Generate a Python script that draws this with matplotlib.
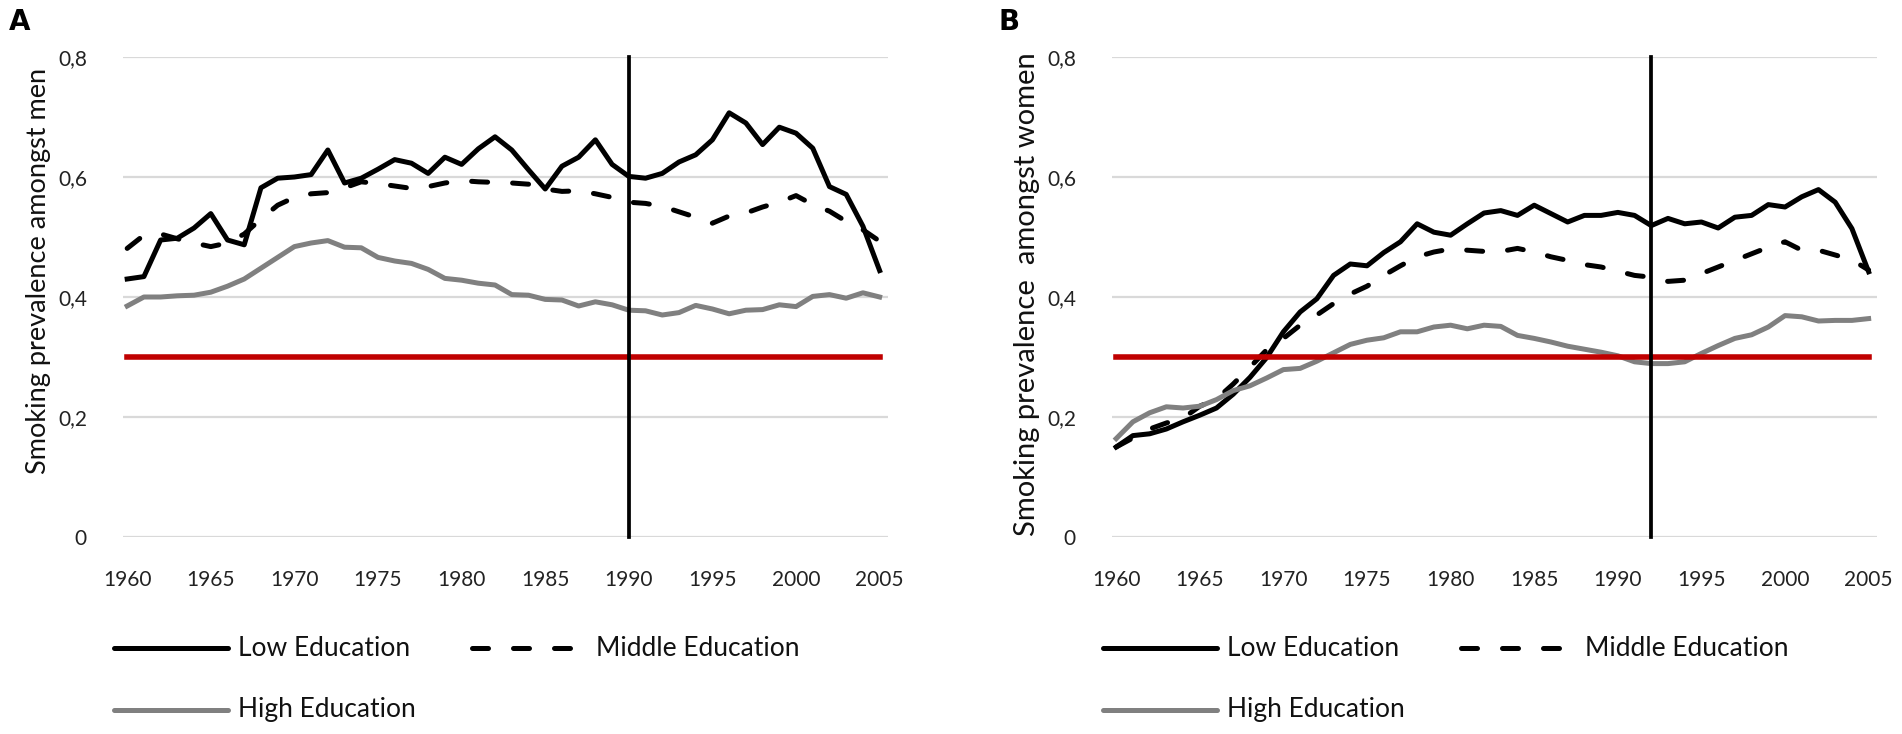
import numpy as np
import matplotlib
matplotlib.use('Agg')
import matplotlib.pyplot as plt
from matplotlib.lines import Line2D

plt.rcParams['font.family'] = ['Lato', 'DejaVu Sans']

years = list(range(1960, 2006))

# panel A - men
men_low = [0.430, 0.434, 0.495, 0.498, 0.515, 0.539, 0.495, 0.487, 0.582, 0.598,
           0.600, 0.604, 0.645, 0.590, 0.598, 0.613, 0.629, 0.623, 0.606, 0.633,
           0.621, 0.647, 0.667, 0.645, 0.612, 0.580, 0.618, 0.633, 0.662, 0.621,
           0.601, 0.598, 0.606, 0.625, 0.637, 0.662, 0.707, 0.690, 0.654, 0.683,
           0.673, 0.648, 0.584, 0.571, 0.518, 0.444]
men_mid = [0.481, 0.503, 0.505, 0.497, 0.490, 0.484, 0.490, 0.505, 0.530, 0.553,
           0.566, 0.572, 0.574, 0.582, 0.592, 0.589, 0.585, 0.581, 0.584, 0.590,
           0.594, 0.592, 0.591, 0.590, 0.588, 0.580, 0.576, 0.577, 0.572, 0.566,
           0.558, 0.556, 0.551, 0.542, 0.533, 0.523, 0.535, 0.540, 0.550, 0.558,
           0.569, 0.554, 0.543, 0.526, 0.512, 0.493]
men_high = [0.385, 0.400, 0.400, 0.402, 0.403, 0.408, 0.418, 0.430, 0.448, 0.466,
            0.484, 0.490, 0.494, 0.483, 0.482, 0.466, 0.460, 0.456, 0.446, 0.431,
            0.428, 0.423, 0.420, 0.404, 0.403, 0.396, 0.395, 0.385, 0.392, 0.387,
            0.378, 0.377, 0.370, 0.374, 0.386, 0.380, 0.372, 0.378, 0.379, 0.387,
            0.384, 0.401, 0.404, 0.398, 0.407, 0.400]

# panel B - women
women_low = [0.150, 0.169, 0.172, 0.180, 0.192, 0.203, 0.215, 0.238, 0.266, 0.299,
             0.342, 0.375, 0.397, 0.436, 0.455, 0.452, 0.474, 0.492, 0.522, 0.508,
             0.503, 0.522, 0.540, 0.544, 0.536, 0.553, 0.539, 0.525, 0.536, 0.536,
             0.541, 0.536, 0.519, 0.531, 0.522, 0.525, 0.515, 0.533, 0.536, 0.554,
             0.550, 0.567, 0.579, 0.558, 0.514, 0.442]
women_mid = [0.150, 0.165, 0.180, 0.190, 0.198, 0.218, 0.230, 0.255, 0.283, 0.312,
             0.331, 0.353, 0.370, 0.389, 0.405, 0.418, 0.436, 0.452, 0.467, 0.475,
             0.480, 0.478, 0.476, 0.476, 0.481, 0.475, 0.467, 0.461, 0.454, 0.450,
             0.443, 0.436, 0.433, 0.426, 0.428, 0.439, 0.450, 0.461, 0.472, 0.483,
             0.492, 0.478, 0.478, 0.470, 0.462, 0.445]
women_high = [0.164, 0.192, 0.207, 0.217, 0.215, 0.218, 0.229, 0.244, 0.252, 0.265,
              0.279, 0.281, 0.293, 0.307, 0.321, 0.328, 0.332, 0.342, 0.342, 0.350,
              0.353, 0.347, 0.353, 0.351, 0.336, 0.331, 0.325, 0.318, 0.313, 0.308,
              0.302, 0.292, 0.289, 0.289, 0.292, 0.306, 0.319, 0.331, 0.337, 0.350,
              0.369, 0.367, 0.360, 0.361, 0.361, 0.364]

threshold = 0.3
cut_year = {'A': 1990, 'B': 1992}
ylabels = {'A': 'Smoking prevalence amongst men', 'B': 'Smoking prevalence  amongst women'}
yticks = [0, 0.2, 0.4, 0.6, 0.8]
ytick_labels = ['0', '0,2', '0,4', '0,6', '0,8']
xticks = list(range(1960, 2006, 5))

W, H = 1902, 734
fig = plt.figure(figsize=(W / 100, H / 100), dpi=100)

GRAY = '#808080'
RED = '#C00000'
LW = 3.6
DASH = (3.2, 5.0)

def panel(left_px, letter, low, mid, high, lab_size, lab_y):
    ax = fig.add_axes([left_px / W, 1 - 537 / H, 765 / W, (537 - 57) / H])
    ax.plot(years, low, color='black', lw=LW, solid_joinstyle='round', zorder=3)
    ax.plot(years, mid, color='black', lw=LW, dashes=DASH, dash_capstyle='round',
            solid_joinstyle='round', zorder=3)
    ax.plot(years, high, color=GRAY, lw=LW, solid_joinstyle='round', zorder=3)
    ax.plot([years[0], years[-1]], [threshold, threshold], color=RED, lw=4, zorder=4)
    ax.plot([cut_year[letter]] * 2, [0, 0.8], color='black', lw=2.7, zorder=5, clip_on=False)
    ax.set_xlim(1959.75, 2005.5)
    ax.set_ylim(0, 0.8)
    ax.set_yticks(yticks)
    ax.set_yticklabels(ytick_labels)
    ax.set_xticks(xticks)
    ax.set_xticklabels([str(x) for x in xticks])
    ax.grid(axis='y', color='#D9D9D9', lw=1.6, zorder=0)
    ax.set_axisbelow(True)
    for s in ax.spines.values():
        s.set_visible(False)
    ax.tick_params(axis='both', length=0, labelsize=15, colors='#222222')
    ax.tick_params(axis='y', pad=26)
    ax.tick_params(axis='x', pad=24)
    for lab in ax.get_yticklabels() + ax.get_xticklabels():
        lab.set_clip_on(False)
    ax.set_ylabel(ylabels[letter], fontsize=lab_size, color='#111111')
    ax.yaxis.set_label_coords(-0.094, lab_y)
    fig.text((left_px - 103) / W, 1 - 22 / H, letter, fontsize=20, fontweight='bold',
             family='DejaVu Sans', ha='center', va='center')
    return ax

axA = panel(123, 'A', men_low, men_mid, men_high, 19.5, 0.554)
axB = panel(1112, 'B', women_low, women_mid, women_high, 21, 0.506)

# legends below each panel
def legend_keys(left_px):
    rows = [(left_px - 9, 648, 'black', None, 'Low Education'),
            (left_px + 349, 648, 'black', DASH, 'Middle Education'),
            (left_px - 9, 710, GRAY, None, 'High Education')]
    for x0, y, col, dash, name in rows:
        ln = Line2D([x0 / W, (x0 + 114) / W], [1 - y / H, 1 - y / H], color=col, lw=LW,
                    transform=fig.transFigure, solid_capstyle='round', dash_capstyle='round')
        if dash:
            ln.set_dashes(dash)
        fig.add_artist(ln)
        fig.text((x0 + 124) / W, 1 - y / H, name, fontsize=19, color='#111111',
                 ha='left', va='center')

legend_keys(123)
legend_keys(1112)

fig.savefig('out.png', dpi=100, facecolor='white')
